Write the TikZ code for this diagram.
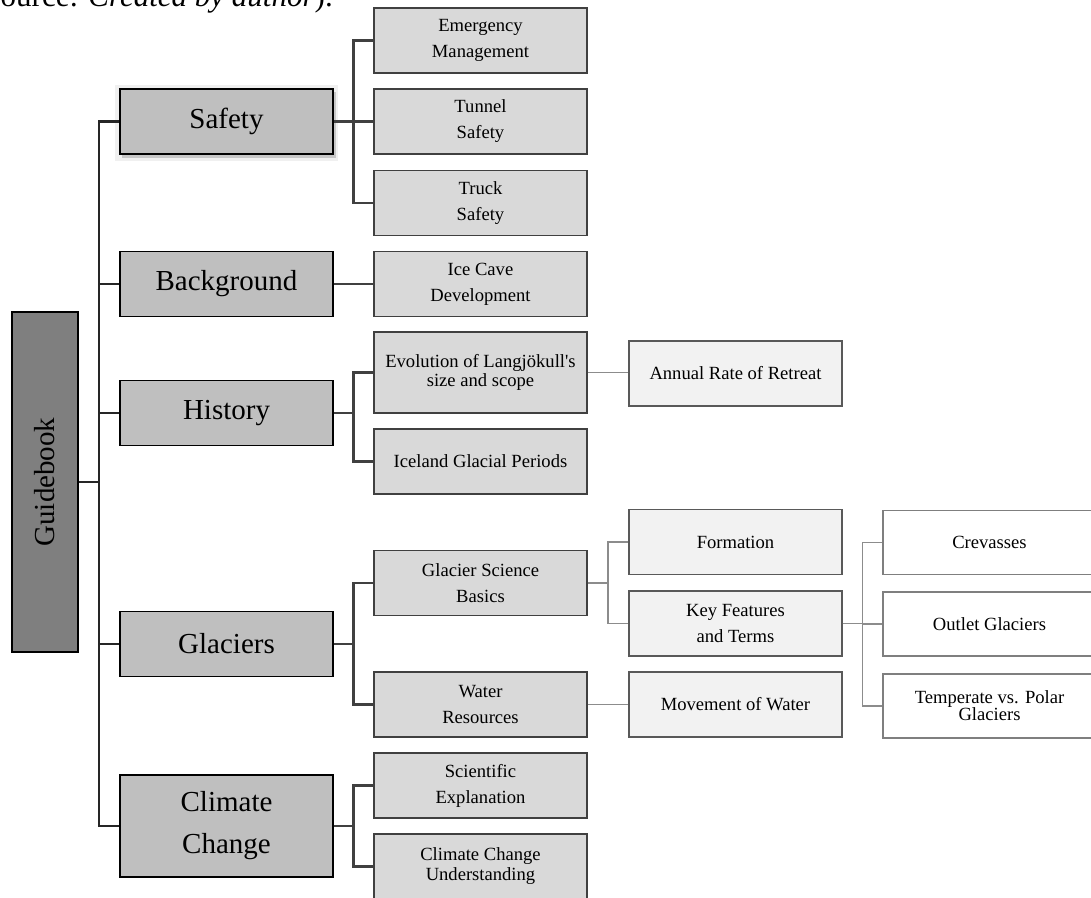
\documentclass[tikz,border=0pt]{standalone}
\usepackage{fontspec}
\setmainfont{Liberation Serif}
\newfontfamily\rawserif{Liberation Serif}[Ligatures=TeXOff]
\usetikzlibrary{calc}
\definecolor{cgb}{HTML}{7F7F7F}
\definecolor{cl1}{HTML}{BFBFBF}
\definecolor{cl2}{HTML}{D9D9D9}
\definecolor{cl3}{HTML}{F2F2F2}
\definecolor{bl2}{HTML}{404040}
\definecolor{bl3}{HTML}{595959}
\definecolor{bl4}{HTML}{7F7F7F}
\definecolor{ln1}{HTML}{262626}
\definecolor{ln2}{HTML}{404040}
\definecolor{ln3}{HTML}{8C8C8C}
\tikzset{
  basebox/.style={draw, rectangle, inner sep=0pt, align=center, anchor=center},
  gbox/.style={basebox, fill=cgb, draw=black, line width=1.6pt, minimum width=66pt, minimum height=340pt, font=\fontsize{29}{34}\selectfont},
  lone/.style={basebox, fill=cl1, draw=black, line width=1.6pt, minimum width=213pt, minimum height=65pt, font=\fontsize{29}{42}\selectfont},
  ltwo/.style={basebox, fill=cl2, draw=bl2, line width=1.5pt, minimum width=213pt, minimum height=65pt, font=\fontsize{18.6}{26}\selectfont},
  lthree/.style={basebox, fill=cl3, draw=bl3, line width=1.3pt, minimum width=213pt, minimum height=65pt, font=\fontsize{18.6}{26}\selectfont},
  lfour/.style={basebox, fill=white, draw=bl4, line width=1.3pt, minimum width=213pt, minimum height=64pt, font=\fontsize{18.6}{26}\selectfont},
  tight/.style={font=\fontsize{18.6}{19}\selectfont},
  elbow/.style={to path={-| ($(\tikztostart)!.5!(\tikztotarget)$) |- (\tikztotarget)}},
  cone/.style={draw=ln1, line width=2.2pt},
  ctwo/.style={draw=ln2, line width=2.2pt},
  cthree/.style={draw=ln3, line width=1.6pt},
}
\begin{document}
\begin{tikzpicture}[x=1pt,y=-1pt]
\useasboundingbox (0,0) rectangle (1091,897);
\clip (0,0) rectangle (1091,897);
\fill[white] (0,0) rectangle (1091,897);

% caption fragment
\node[anchor=base east, inner sep=0pt, font=\fontsize{31}{36}\selectfont] (src) at (333,6) {(Source: \textit{Created by author}).};

% root
\node[gbox] (gb) at (45,482) {\rotatebox{90}{Guidebook}};

% safety shadow
\fill[black!6] (115,85) rectangle (338,161);
\fill[black!22] (122,92) rectangle (336,158);

% level 1
\node[lone] (saf) at (226.5,121.5) {Safety};
\node[lone] (bg) at (226.5,284) {Background};
\node[lone] (his) at (226.5,413) {History};
\node[lone] (gla) at (226.5,644) {Glaciers};
\node[lone, minimum height=102pt] (cc) at (226.5,826) {Climate\\Change};

% level 2
\node[ltwo] (em) at (480.5,40.5) {Emergency\\Management};
\node[ltwo] (tun) at (480.5,121.5) {Tunnel\\Safety};
\node[ltwo] (tru) at (480.5,203) {Truck\\Safety};
\node[ltwo] (ice) at (480.5,284) {Ice Cave\\Development};
\node[ltwo, tight, minimum height=81pt] (evo) at (480.5,372.5) {Evolution of Langjökull{\rawserif '}s\\size and scope};
\node[ltwo] (icel) at (480.5,461.5) {Iceland Glacial Periods};
\node[ltwo] (gsb) at (480.5,583) {Glacier Science\\Basics};
\node[ltwo] (wr) at (480.5,704.5) {Water\\Resources};
\node[ltwo] (sci) at (480.5,785.5) {Scientific\\Explanation};
\node[ltwo, tight, font=\fontsize{18.6}{20}\selectfont] (ccu) at (480.5,866.5) {Climate Change\\Understanding};

% level 3
\node[lthree] (ann) at (735.5,373.5) {Annual Rate of Retreat};
\node[lthree] (form) at (735.5,542) {Formation};
\node[lthree] (key) at (735.5,623.5) {Key Features\\and Terms};
\node[lthree] (mov) at (735.5,704.5) {Movement of Water};

% level 4
\node[lfour] (crev) at (989.5,542.5) {Crevasses};
\node[lfour] (out) at (989.5,624) {Outlet Glaciers};
\node[lfour, tight, font=\fontsize{18.6}{17}\selectfont] (temp) at (989.5,706) {Temperate vs. Polar\\Glaciers};

% connectors: root to level 1
\foreach \c in {saf,bg,his,gla,cc}{
  \draw[cone] (gb.east) to[elbow] (\c.west);
}
% level 1 to level 2
\foreach \c in {em,tun,tru}{ \draw[ctwo] (saf.east) to[elbow] (\c.west); }
\draw[ctwo] (bg.east) -- (ice.west);
\foreach \c in {evo,icel}{ \draw[ctwo] (his.east) to[elbow] (\c.west); }
\foreach \c in {gsb,wr}{ \draw[ctwo] (gla.east) to[elbow] (\c.west); }
\foreach \c in {sci,ccu}{ \draw[ctwo] (cc.east) to[elbow] (\c.west); }
% level 2 to level 3
\draw[cthree] (evo.east) -- (evo.east -| ann.west);
\foreach \c in {form,key}{ \draw[cthree] (gsb.east) to[elbow] (\c.west); }
\draw[cthree] (wr.east) -- (mov.west);
% level 3 to level 4
\foreach \c in {crev,out,temp}{ \draw[cthree] (key.east) to[elbow] (\c.west); }
\end{tikzpicture}
\end{document}
